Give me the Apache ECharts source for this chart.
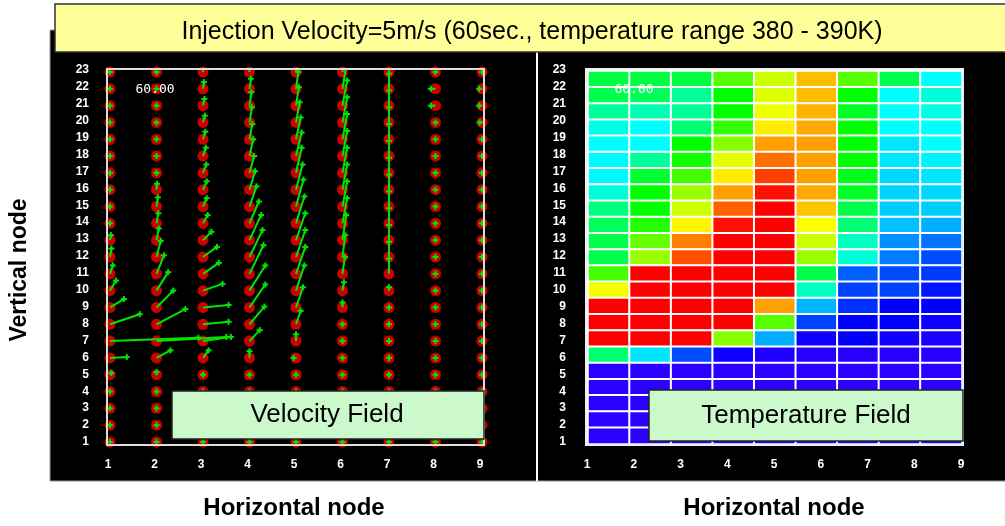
<!DOCTYPE html>
<html>
<head>
<meta charset="utf-8">
<script src="https://cdn.jsdelivr.net/npm/echarts@6/dist/echarts.min.js"></script>
<style>
  html, body { margin: 0; padding: 0; background: #fff; }
  #chart { width: 1005px; height: 526px; }
</style>
</head>
<body>
<div id="chart"></div>
<script>
// node labels
const hNodes = [1, 2, 3, 4, 5, 6, 7, 8, 9];
const vNodes = [23, 22, 21, 20, 19, 18, 17, 16, 15, 14, 13, 12, 11, 10, 9, 8, 7, 6, 5, 4, 3, 2, 1]; // top -> bottom

// temperature field (K), rows from node 23 down to node 1, columns 1..9
const tempRows = [
  [385.5, 385.5, 385.5, 386.5, 387.4, 388.7, 386.5, 385.4, 384.0],
  [385.4, 385.3, 384.8, 386.0, 387.6, 388.7, 386.0, 384.0, 384.3],
  [384.8, 384.6, 384.8, 386.0, 387.8, 388.8, 385.7, 384.0, 384.2],
  [384.2, 384.0, 385.1, 386.3, 388.2, 388.9, 386.0, 384.0, 384.0],
  [384.0, 384.0, 386.0, 386.8, 389.0, 389.0, 386.0, 383.6, 384.0],
  [383.9, 384.8, 386.1, 387.7, 389.3, 389.0, 386.0, 383.6, 383.8],
  [383.9, 385.6, 386.4, 388.2, 389.6, 389.0, 385.8, 383.4, 383.6],
  [384.3, 386.0, 386.9, 389.0, 389.9, 388.9, 385.7, 383.3, 383.4],
  [385.0, 386.0, 387.4, 389.4, 390.0, 388.6, 385.4, 383.2, 383.2],
  [385.3, 386.2, 388.1, 389.9, 390.0, 388.0, 385.1, 383.0, 382.8],
  [385.4, 386.6, 389.2, 390.0, 390.0, 387.4, 384.5, 382.5, 382.2],
  [385.4, 386.9, 389.5, 390.0, 390.0, 386.9, 384.3, 382.3, 381.8],
  [386.4, 390.0, 390.0, 390.0, 390.0, 385.4, 382.0, 381.8, 381.6],
  [387.9, 390.0, 390.0, 390.0, 390.0, 384.5, 381.7, 381.7, 381.2],
  [390.0, 390.0, 390.0, 390.0, 389.0, 382.9, 381.5, 381.0, 381.0],
  [390.0, 390.0, 390.0, 390.0, 386.5, 381.7, 381.0, 381.0, 380.7],
  [390.0, 390.0, 390.0, 386.8, 382.8, 380.7, 381.0, 380.6, 380.4],
  [385.1, 383.6, 381.8, 380.7, 380.3, 380.1, 380.1, 380.1, 380.1],
  [380.0, 380.0, 380.0, 380.0, 380.0, 380.0, 380.0, 380.0, 380.0],
  [380.0, 380.0, 380.0, 380.0, 380.0, 380.0, 380.0, 380.0, 380.0],
  [380.0, 380.0, 380.0, 380.0, 380.0, 380.0, 380.0, 380.0, 380.0],
  [380.0, 380.0, 380.0, 380.0, 380.0, 380.0, 380.0, 380.0, 380.0],
  [380.0, 380.0, 380.0, 380.0, 380.0, 380.0, 380.0, 380.0, 380.0]
];

// velocity components in node units (horizontal / vertical), same layout as tempRows
const velU = [
  [0, 0, 0, 0, 0, 0.02, 0, 0, 0],
  [0, 0, 0.02, 0.03, 0.05, 0.08, 0, -0.1, -0.06],
  [0, 0, 0.03, 0.04, 0.06, 0.1, 0, -0.1, -0.06],
  [0, 0, 0.04, 0.05, 0.08, 0.1, 0, 0, -0.05],
  [0, 0, 0.05, 0.06, 0.1, 0.1, 0, 0, 0],
  [0, 0, 0.06, 0.08, 0.12, 0.1, 0, 0, 0],
  [0, 0, 0.07, 0.1, 0.12, 0.1, 0, 0, 0],
  [0, 0.01, 0.08, 0.12, 0.14, 0.1, 0, 0, 0],
  [0, 0.03, 0.08, 0.15, 0.16, 0.1, 0, 0, 0],
  [0, 0.04, 0.1, 0.2, 0.18, 0.1, 0, 0, 0],
  [0.02, 0.05, 0.18, 0.25, 0.2, 0.08, 0, 0, 0],
  [0.03, 0.09, 0.3, 0.28, 0.2, 0.06, 0, 0, 0],
  [0.06, 0.16, 0.34, 0.3, 0.2, 0.05, 0, 0, 0],
  [0.13, 0.25, 0.42, 0.34, 0.18, 0.03, 0, 0, 0],
  [0.3, 0.36, 0.55, 0.34, 0.15, 0, 0, 0, 0],
  [0.64, 0.62, 0.55, 0.32, 0.1, 0, 0, 0, 0],
  [1.9, 1.5, 0.6, 0.22, 0, 0, 0, 0, 0],
  [0.36, 0.3, 0.12, 0, -0.05, 0, 0, 0, 0],
  [0.03, 0, 0, 0, 0, 0, 0, 0, 0],
  [0, 0, 0, 0, 0, 0, 0, 0, 0],
  [0, 0, 0, 0, 0, 0, 0, 0, 0],
  [0, 0, 0, 0, 0, 0, 0, 0, 0],
  [0, 0, 0, 0, 0, 0, 0, 0, 0]
];
const velV = [
  [0, 0, 0.2, 0.3, 0.3, 0.5, 0.3, 0, 0],
  [0, 0, 0.4, 0.6, 1.0, 1.4, 0.9, 0, 0],
  [0, 0, 0.4, 0.8, 1.1, 1.5, 0.9, 0, 0],
  [0, 0, 0.4, 0.9, 1.2, 1.5, 0.9, 0, 0],
  [0, 0, 0.45, 0.9, 1.3, 1.5, 0.9, 0, 0],
  [0, 0, 0.5, 1.0, 1.4, 1.5, 0.9, 0, 0],
  [0, 0, 0.5, 1.0, 1.5, 1.5, 0.9, 0, 0],
  [0, 0.35, 0.5, 1.1, 1.5, 1.5, 0.9, 0, 0],
  [0, 0.55, 0.5, 1.2, 1.6, 1.5, 0.9, 0, 0],
  [0, 0.6, 0.5, 1.3, 1.6, 1.5, 0.9, 0, 0],
  [0.3, 0.7, 0.5, 1.5, 1.6, 1.5, 0.9, 0, 0],
  [0.5, 0.95, 0.6, 1.6, 1.6, 1.3, 0.9, 0, 0],
  [0.5, 1.1, 0.65, 1.7, 1.6, 1.0, 0.9, 0, 0],
  [0.6, 1.1, 0.4, 1.5, 1.5, 0.5, 0.2, 0, 0],
  [0.5, 1.0, 0.15, 1.37, 1.2, 0.3, 0, 0, 0],
  [0.6, 0.9, 0.15, 1.05, 0.8, 0, 0, 0, 0],
  [0.2, 0.25, 0.25, 0.65, 0.4, 0, 0, 0, 0],
  [0.05, 0.45, 0.45, 0.4, 0, 0, 0, 0, 0],
  [0.1, 0.15, 0, 0, 0, 0, 0, 0, 0],
  [0, 0, 0, 0, 0, 0, 0, 0, 0],
  [0, 0, 0, 0, 0, 0, 0, 0, 0],
  [0, 0, 0, 0, 0, 0, 0, 0, 0],
  [0, 0, 0, 0, 0, 0, 0, 0, 0]
];

const titleText = 'Injection Velocity=5m/s (60sec., temperature range 380 - 390K)';
const timeLabel = '60.00';

const chart = echarts.init(document.getElementById('chart'));

const nodePoints = [];
const vectors = [];
const heatData = [];
vNodes.forEach((v, r) => {
  hNodes.forEach((h, c) => {
    nodePoints.push([h, v]);
    vectors.push([h, v, velU[r][c], velV[r][c]]);
    heatData.push([c, v - 1, tempRows[r][c]]);
  });
});

const labelStyle = { color: '#fff', fontFamily: 'Liberation Sans', fontWeight: 'bold', fontSize: 12 };
const nameStyle = { color: '#000', fontFamily: 'Liberation Sans', fontWeight: 'bold', fontSize: 24 };

function labelX(grid) {
  return {
    gridIndex: grid, type: 'value', min: 1, max: 9, interval: 1,
    axisLine: { show: false }, axisTick: { show: false }, splitLine: { show: false },
    axisLabel: Object.assign({ margin: 17 }, labelStyle),
    name: 'Horizontal node', nameLocation: 'middle', nameGap: 54, nameTextStyle: nameStyle
  };
}
function labelY(grid, margin) {
  return {
    gridIndex: grid, type: 'value', min: 1, max: 23, interval: 1,
    axisLine: { show: false }, axisTick: { show: false }, splitLine: { show: false },
    axisLabel: Object.assign({ margin: margin }, labelStyle)
  };
}

chart.setOption({
  backgroundColor: '#fff',
  animation: false,
  grid: [
    { left: 107, top: 69, width: 377, height: 376 },   // velocity data (frame area)
    { left: 108, top: 70, width: 372, height: 372 },   // velocity labels
    { left: 588, top: 71, width: 374, height: 373 },   // temperature cells
    { left: 587, top: 70, width: 374, height: 372 }    // temperature labels
  ],
  xAxis: [
    { gridIndex: 0, type: 'value', min: 1 - 3 / 46.5, max: 9 + 2 / 46.5, show: false },
    labelX(1),
    { gridIndex: 2, type: 'category', data: hNodes, show: false },
    labelX(3)
  ],
  yAxis: [
    { gridIndex: 0, type: 'value', min: 1 - 3 / 16.82, max: 23 + 3 / 16.82, show: false },
    labelY(1, 19),
    { gridIndex: 2, type: 'category', data: vNodes.slice().reverse(), show: false },
    labelY(3, 21)
  ],
  visualMap: {
    show: false, seriesIndex: 2, min: 380, max: 390, dimension: 2,
    inRange: { color: ['#2a00ff', '#0000ff', '#0060ff', '#00c0ff', '#00ffff', '#00ff80',
                       '#00ff00', '#aaff00', '#ffff00', '#ffa000', '#ff0000'] }
  },
  series: [
    {
      type: 'scatter', xAxisIndex: 0, yAxisIndex: 0, data: nodePoints,
      symbol: 'circle', symbolSize: 11, clip: true, z: 2,
      itemStyle: { color: '#ff0000' }, silent: true
    },
    {
      type: 'custom', xAxisIndex: 0, yAxisIndex: 0, data: vectors, clip: true, z: 3,
      encode: { x: 0, y: 1 }, silent: true,
      renderItem: function (params, api) {
        const x = api.value(0), y = api.value(1);
        const p0 = api.coord([x, y]);
        const p1 = api.coord([x + api.value(2), y + api.value(3)]);
        const s = 3;
        const st = { stroke: '#00e600', lineWidth: 2, fill: null };
        return {
          type: 'group',
          children: [
            { type: 'line', shape: { x1: p0[0], y1: p0[1], x2: p1[0], y2: p1[1] }, style: st },
            { type: 'line', shape: { x1: p1[0] - s, y1: p1[1], x2: p1[0] + s, y2: p1[1] }, style: st },
            { type: 'line', shape: { x1: p1[0], y1: p1[1] - s, x2: p1[0], y2: p1[1] + s }, style: st }
          ]
        };
      }
    },
    {
      type: 'heatmap', xAxisIndex: 2, yAxisIndex: 2, data: heatData, z: 2,
      itemStyle: { borderColor: '#fff', borderWidth: 2 }, silent: true
    }
  ],
  graphic: [
    { type: 'rect', z: -10, shape: { x: 50, y: 30, width: 960, height: 451 },
      style: { fill: '#000', stroke: '#999', lineWidth: 1 } },
    { type: 'line', z: -9, shape: { x1: 537, y1: 52, x2: 537, y2: 481 },
      style: { stroke: '#fff', lineWidth: 2 } },
    { type: 'rect', z: -8, shape: { x: 55, y: 4, width: 955, height: 48 },
      style: { fill: '#ffff99', stroke: '#333', lineWidth: 1.5 } },
    { type: 'text', z: 100, x: 532, y: 32,
      style: { text: titleText, fill: '#000', font: '25px "Liberation Sans"', align: 'center', verticalAlign: 'middle' } },
    { type: 'rect', z: 50, shape: { x: 107, y: 69, width: 377, height: 376 },
      style: { fill: null, stroke: '#ddd', lineWidth: 2 } },
    { type: 'rect', z: 50, shape: { x: 586, y: 69, width: 377, height: 376 },
      style: { fill: null, stroke: '#eee', lineWidth: 2 } },
    { type: 'text', z: 100, x: 155, y: 90,
      style: { text: timeLabel, fill: '#fff', font: '13px "DejaVu Sans Mono"', align: 'center', verticalAlign: 'middle' } },
    { type: 'text', z: 100, x: 634, y: 90,
      style: { text: timeLabel, fill: '#fff', font: '13px "DejaVu Sans Mono"', align: 'center', verticalAlign: 'middle' } },
    { type: 'rect', z: 100, shape: { x: 172, y: 391, width: 312, height: 48 },
      style: { fill: '#ccf9cc', stroke: '#222', lineWidth: 1.5 } },
    { type: 'text', z: 101, x: 327, y: 415,
      style: { text: 'Velocity Field', fill: '#000', font: '26px "Liberation Sans"', align: 'center', verticalAlign: 'middle' } },
    { type: 'rect', z: 100, shape: { x: 649, y: 390, width: 314, height: 51 },
      style: { fill: '#ccf9cc', stroke: '#222', lineWidth: 1.5 } },
    { type: 'text', z: 101, x: 806, y: 416,
      style: { text: 'Temperature Field', fill: '#000', font: '26px "Liberation Sans"', align: 'center', verticalAlign: 'middle' } },
    { type: 'text', z: 100, x: 20, y: 270, rotation: Math.PI / 2,
      style: { text: 'Vertical node', fill: '#000', font: 'bold 23px "Liberation Sans"', align: 'center', verticalAlign: 'middle' } }
  ]
});
</script>
</body>
</html>
